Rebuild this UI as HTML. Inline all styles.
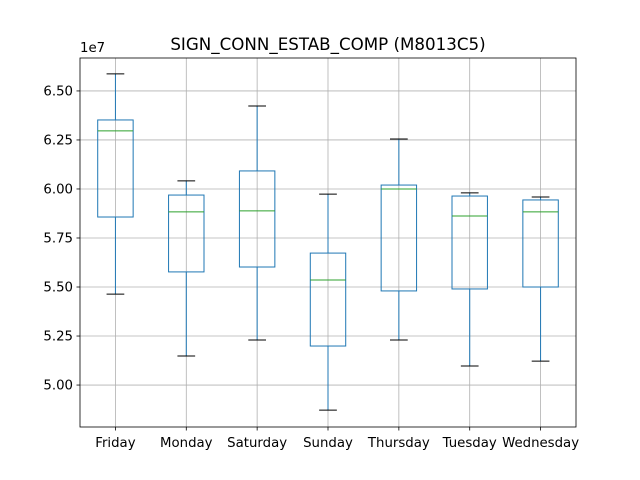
<!DOCTYPE html>
<html><head><meta charset="utf-8"><style>body{margin:0;background:#fff}svg{display:block;font-family:"DejaVu Sans","Liberation Sans",sans-serif}</style></head>
<body>
<svg id="chart" width="640" height="480" viewBox="0 0 640 480"></svg>
<script>
const categories = ["Friday","Monday","Saturday","Sunday","Thursday","Tuesday","Wednesday"];
const whiskerHigh = [6.587,6.041,6.423,5.974,6.255,5.980,5.959];
const q3Values = [6.352,5.969,6.092,5.673,6.020,5.964,5.944];
const medianValues = [6.296,5.883,5.888,5.536,6.000,5.862,5.883];
const q1Values = [5.857,5.577,5.602,5.199,5.480,5.490,5.500];
const whiskerLow = [5.464,5.148,5.230,4.872,5.230,5.097,5.122];
const yTicks = [5.00,5.25,5.50,5.75,6.00,6.25,6.50];
const yTickLabels = ["5.00","5.25","5.50","5.75","6.00","6.25","6.50"];

const L=80,R=576,T=58,B=427,yMin=4.786,yMax=6.668;
const NS="http://www.w3.org/2000/svg";
const svg=document.getElementById("chart");
const y=v=>B-(v-yMin)/(yMax-yMin)*(B-T);
const step=(R-L)/categories.length;
const x=i=>L+step*(i+0.5);
function mk(tag,attrs,parent){const e=document.createElementNS(NS,tag);for(const k in attrs)e.setAttribute(k,attrs[k]);(parent||svg).appendChild(e);return e;}

const grid=mk("g",{});


yTicks.forEach((t,i)=>{
  mk("line",{x1:L,x2:R,y1:y(t),y2:y(t),stroke:"#b0b0b0","stroke-width":0.8},grid);
  mk("line",{x1:L-3.5,x2:L,y1:y(t),y2:y(t),stroke:"#000","stroke-width":0.8});
  const lb=mk("text",{x:L-7,y:y(t)+4.5,"text-anchor":"end","font-size":"13.3px"});
  lb.textContent=yTickLabels[i];
  
  
});
categories.forEach((c,i)=>{
  const cx=x(i);
  mk("line",{x1:cx,x2:cx,y1:T,y2:B,stroke:"#b0b0b0","stroke-width":0.8},grid);
  mk("line",{x1:cx,x2:cx,y1:B,y2:B+3.5,stroke:"#000","stroke-width":0.8});
  const lb=mk("text",{x:cx,y:B+20,"text-anchor":"middle","font-size":"13.3px"});
  lb.textContent=c;
  
  
  const g=mk("g",{});
  
  
  const hw=step*0.25, cw=step*0.125, col="#1f77b4";
  mk("line",{x1:cx,x2:cx,y1:y(q3Values[i]),y2:y(whiskerHigh[i]),stroke:col,"stroke-width":1},g);
  mk("line",{x1:cx,x2:cx,y1:y(q1Values[i]),y2:y(whiskerLow[i]),stroke:col,"stroke-width":1},g);
  mk("line",{x1:cx-cw,x2:cx+cw,y1:y(whiskerHigh[i]),y2:y(whiskerHigh[i]),stroke:"#000","stroke-width":1},g);
  mk("line",{x1:cx-cw,x2:cx+cw,y1:y(whiskerLow[i]),y2:y(whiskerLow[i]),stroke:"#000","stroke-width":1},g);
  mk("rect",{x:cx-hw,y:y(q3Values[i]),width:2*hw,height:y(q1Values[i])-y(q3Values[i]),fill:"none",stroke:col,"stroke-width":1},g);
  mk("line",{x1:cx-hw,x2:cx+hw,y1:y(medianValues[i]),y2:y(medianValues[i]),stroke:"#2ca02c","stroke-width":1},g);
});
const fr=mk("rect",{x:L,y:T,width:R-L,height:B-T,fill:"none",stroke:"#000","stroke-width":0.8});


const off=mk("text",{x:L,y:52,"font-size":"13.3px"});
off.textContent="1e7";


const ti=mk("text",{x:(L+R)/2,y:50,"text-anchor":"middle","font-size":"16.7px"});
ti.textContent="SIGN_CONN_ESTAB_COMP (M8013C5)";


</script>
</body></html>
